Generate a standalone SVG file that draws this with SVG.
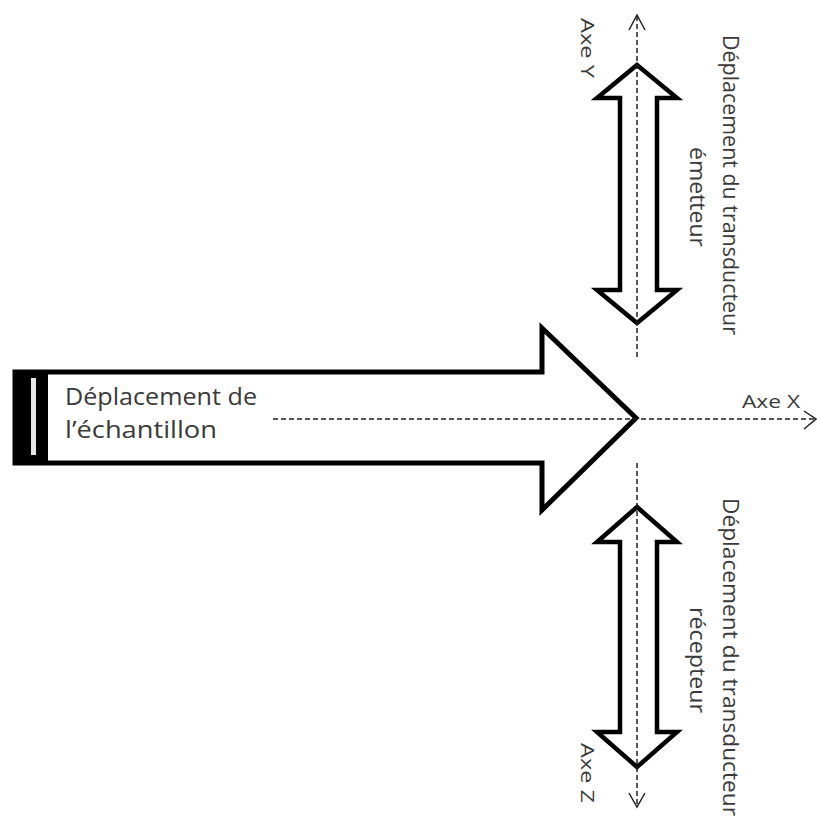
<svg xmlns="http://www.w3.org/2000/svg" width="817" height="821" viewBox="0 0 817 821">
<style>
.shape{fill:#fff;stroke:#000;stroke-linejoin:miter;stroke-miterlimit:10}
.axis{fill:none;stroke:#222;stroke-width:1.5;stroke-dasharray:5 3}
.head{fill:none;stroke:#222;stroke-width:1.5}
.lbl{font-family:"Open Sans","Liberation Sans",sans-serif;fill:#3a3a3a}
</style>
<rect width="817" height="821" fill="#fff"/>
<g id="sample-arrow">
<polygon class="shape" stroke-width="5" points="15,372 542,372 542,328 636,418 542,510 542,463 15,463"/>
<rect x="13" y="370" width="35" height="93" fill="#000"/>
<rect x="31" y="378" width="5" height="77" fill="#e8e8e8"/>
<text class="lbl" x="65" y="405" font-size="23" textLength="192" lengthAdjust="spacingAndGlyphs">Déplacement de</text>
<text class="lbl" x="65" y="438" font-size="23" textLength="152" lengthAdjust="spacingAndGlyphs">l’échantillon</text>
</g>
<g id="emitter-arrow">
<polygon class="shape" stroke-width="4.5" points="637,65 677,98 657,98 657,290 677,290 637,323 597,290 620,290 620,98 597,98"/>
<text class="lbl" font-size="22" transform="translate(723,35) rotate(90)" textLength="300" lengthAdjust="spacingAndGlyphs">Déplacement du transducteur</text>
<text class="lbl" font-size="22" transform="translate(690,147) rotate(90)" textLength="100" lengthAdjust="spacingAndGlyphs">émetteur</text>
</g>
<g id="receiver-arrow">
<polygon class="shape" stroke-width="4.5" points="637,507 677,542 657,542 657,732 677,732 637,767 597,732 620,732 620,542 597,542"/>
<text class="lbl" font-size="22" transform="translate(723,498) rotate(90)" textLength="318" lengthAdjust="spacingAndGlyphs">Déplacement du transducteur</text>
<text class="lbl" font-size="22" transform="translate(690,607) rotate(90)" textLength="106" lengthAdjust="spacingAndGlyphs">récepteur</text>
</g>
<g id="connectors">
<line class="axis" x1="273" y1="419" x2="815" y2="419"/>
<polyline class="head" points="804,411 816,419 804,429"/>
<line class="axis" x1="637" y1="357" x2="637" y2="16"/>
<polyline class="head" points="629,30 637,15 645,30"/>
<line class="axis" x1="637" y1="463" x2="637" y2="806"/>
<polyline class="head" points="629,793 637,807 645,793"/>
</g>
<g id="axis-labels">
<text class="lbl" x="742" y="408" font-size="19" textLength="58" lengthAdjust="spacingAndGlyphs">Axe X</text>
<text class="lbl" font-size="19" transform="translate(581,18) rotate(90)" textLength="60" lengthAdjust="spacingAndGlyphs">Axe Y</text>
<text class="lbl" font-size="19" transform="translate(581,743) rotate(90)" textLength="60" lengthAdjust="spacingAndGlyphs">Axe Z</text>
</g>
</svg>
